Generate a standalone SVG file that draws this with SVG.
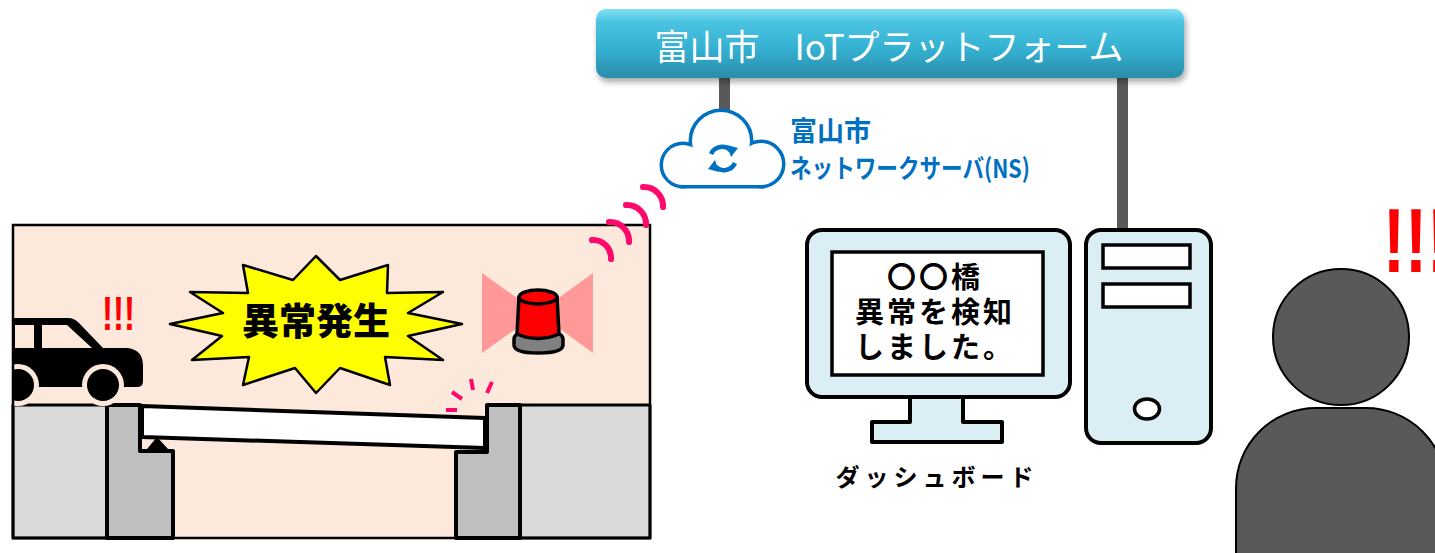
<svg xmlns="http://www.w3.org/2000/svg" width="1435" height="553" viewBox="0 0 1435 553">
  <defs>
    <linearGradient id="barGrad" x1="0" y1="0" x2="0" y2="1">
      <stop offset="0" stop-color="#7fe0f2"/>
      <stop offset="0.18" stop-color="#4cc4e2"/>
      <stop offset="0.6" stop-color="#33afd0"/>
      <stop offset="1" stop-color="#2a8caa"/>
    </linearGradient>
    <filter id="shadow" x="-5%" y="-20%" width="110%" height="160%">
      <feDropShadow dx="2" dy="4" stdDeviation="3" flood-color="#000" flood-opacity="0.35"/>
    </filter>
    <clipPath id="panelClip">
      <rect x="13" y="225" width="637" height="313"/>
    </clipPath>
    <style>
      .jp { font-family: "Noto Sans CJK JP", "Noto Sans", sans-serif; }
      .ln { stroke: #000; stroke-linejoin: round; }
      .sig { fill: none; stroke: #ff0a6c; stroke-width: 6; stroke-linecap: round; }
      .crack { stroke: #ff0a6c; stroke-width: 4; }
      .bar { fill: #595959; }
      .pc { fill: #daeef3; stroke: #000; stroke-width: 4; stroke-linejoin: round; }
      .bang { font-family: "Liberation Sans", Arial, sans-serif; font-weight: bold; fill: #ff0000; }
    </style>
  </defs>

  <!-- connectors: platform to cloud and to the PC tower -->
  <g id="connectors">
    <rect class="bar" x="719" y="70" width="11" height="48"/>
    <rect class="bar" x="1117" y="70" width="11" height="162"/>
  </g>

  <!-- IoT platform bar -->
  <g id="platform">
    <rect x="596" y="9" width="588" height="69" rx="10" fill="url(#barGrad)" filter="url(#shadow)"/>
    <text class="jp" x="889" y="60" font-size="35" fill="#fff" text-anchor="middle">富山市　IoTプラットフォーム</text>
  </g>

  <!-- network server cloud -->
  <g id="cloud">
    <g fill="none" stroke="#0070c0" stroke-width="7">
      <circle cx="683" cy="165" r="20"/>
      <circle cx="721" cy="141" r="29"/>
      <circle cx="761" cy="164" r="21"/>
      <rect x="683" y="150" width="78" height="35"/>
    </g>
    <g fill="#fff">
      <circle cx="683" cy="165" r="20"/>
      <circle cx="721" cy="141" r="29"/>
      <circle cx="761" cy="164" r="21"/>
      <rect x="683" y="150" width="78" height="35"/>
    </g>
    <!-- sync arrows -->
    <g fill="none" stroke="#0070c0" stroke-width="4.5">
      <path d="M711,154 A12,12 0 0 1 731,151"/>
      <path d="M735,163 A12,12 0 0 1 715,166"/>
    </g>
    <polygon points="727,145 738,148 731,157" fill="#0070c0"/>
    <polygon points="719,172 708,169 715,160" fill="#0070c0"/>
  </g>

  <g id="ns-label" fill="#0070c0" font-weight="bold" class="jp">
    <text x="790" y="141" font-size="27">富山市</text>
    <text x="790" y="178" font-size="26" textLength="240" lengthAdjust="spacingAndGlyphs">ネットワークサーバ(NS)</text>
  </g>

  <!-- bridge scene -->
  <g id="bridge-scene">
    <rect x="13" y="225" width="637" height="313" fill="#fde9db"/>
    <!-- ground blocks -->
    <rect x="13" y="405" width="94" height="133" fill="#d9d9d9" class="ln" stroke-width="3"/>
    <rect x="520" y="405" width="130" height="133" fill="#d9d9d9" class="ln" stroke-width="3"/>
    <!-- abutments -->
    <polygon points="107,405 140,405 140,451 173,451 173,538 107,538" fill="#bfbfbf" class="ln" stroke-width="4"/>
    <polygon points="487,405 520,405 520,538 456,538 456,452 487,452" fill="#bfbfbf" class="ln" stroke-width="4"/>
    <!-- bearing -->
    <path d="M147,449 L157,437 L168,449 Z" fill="#000"/>
    <!-- girder -->
    <polygon points="142,406 485,418 485,448 142,437" fill="#fff" class="ln" stroke-width="4"/>
    <!-- car -->
    <g clip-path="url(#panelClip)">
      <path d="M5,318 H68 Q74,318 79,323 L103,348 H128 Q143,350 143,366 V381 Q143,387 137,387 H5 Z" fill="#000"/>
      <rect x="15" y="325" width="19" height="23" fill="#fde9db"/>
      <polygon points="42,325 67,325 92,348 42,348" fill="#fde9db"/>
      <circle cx="103" cy="385" r="21" fill="#fde9db"/>
      <circle cx="18" cy="385" r="21" fill="#fde9db"/>
      <circle cx="103" cy="385" r="16" fill="#000"/>
      <circle cx="18" cy="385" r="16" fill="#000"/>
    </g>
    <text class="bang" x="102" y="330" font-size="48" textLength="33" lengthAdjust="spacingAndGlyphs">!!!</text>
    <!-- alert burst -->
    <polygon points="316,256 340,280 388,265 387,293 443,292 408,313 462,324 408,336 443,360 385,357 390,385 340,368 316,393 295,368 243,385 249,357 192,360 222,336 170,324 223,313 190,292 248,293 243,265 293,280" fill="#ffff00" class="ln" stroke-width="2.5"/>
    <text class="jp" x="316" y="335" font-size="37" font-weight="900" text-anchor="middle">異常発生</text>
    <!-- warning light -->
    <polygon points="482,273 538,313 482,353" fill="#ff9999"/>
    <polygon points="593,273 538,313 593,353" fill="#ff9999"/>
    <path d="M514,339 V345 Q514,353 538,353 Q563,353 563,345 V339 Q563,331 538,331 Q514,331 514,339 Z" fill="#808080" class="ln" stroke-width="3.5"/>
    <path d="M519,297 L517,334 Q538,343 559,334 L557,297 Z" fill="#ff0000" class="ln" stroke-width="3.5"/>
    <ellipse cx="538" cy="297" rx="19" ry="7" fill="#ff0000" class="ln" stroke-width="3.5"/>
    <!-- impact marks -->
    <line class="crack" x1="446" y1="410" x2="457" y2="410"/>
    <line class="crack" x1="452" y1="392" x2="462" y2="399"/>
    <line class="crack" x1="471" y1="379" x2="473" y2="390"/>
    <line class="crack" x1="492" y1="382" x2="487" y2="393"/>
    <rect x="13" y="225" width="637" height="313" fill="none" stroke="#000" stroke-width="2.5"/>
  </g>

  <!-- radio waves from the sensor -->
  <g id="waves">
    <path class="sig" d="M592,240 A18,18 0 0 1 611,259"/>
    <path class="sig" d="M609,222 A19,19 0 0 1 629,242"/>
    <path class="sig" d="M626,205 A19,19 0 0 1 646,225"/>
    <path class="sig" d="M643,187 A19,19 0 0 1 663,207"/>
  </g>

  <!-- dashboard monitor -->
  <g id="monitor">
    <path class="pc" d="M910,395 V422 H872 V442 H1002 V422 H963 V395"/>
    <rect class="pc" x="807" y="230" width="263" height="167" rx="15"/>
    <rect x="832" y="252" width="211" height="123" fill="#fff" stroke="#000" stroke-width="3.5"/>
    <g class="jp" font-size="29" font-weight="bold" text-anchor="middle" letter-spacing="3">
      <text x="935" y="288">〇〇橋</text>
      <text x="935" y="323">異常を検知</text>
      <text x="935" y="358">しました。</text>
    </g>
    <text class="jp" x="937" y="486" font-size="24" font-weight="bold" text-anchor="middle" letter-spacing="5">ダッシュボード</text>
  </g>

  <!-- PC tower -->
  <g id="tower">
    <rect class="pc" x="1086" y="230" width="125" height="213" rx="15"/>
    <rect x="1103" y="245" width="87" height="23" fill="#fff" stroke="#000" stroke-width="3.5"/>
    <rect x="1103" y="284" width="87" height="23" fill="#fff" stroke="#000" stroke-width="3.5"/>
    <ellipse cx="1147" cy="409" rx="12.5" ry="10" fill="#fff" stroke="#000" stroke-width="3.5"/>
  </g>

  <!-- operator -->
  <g id="person">
    <path d="M1236,560 V488 A80,80 0 0 1 1316,408 H1366 A80,80 0 0 1 1446,488 V560 Z" fill="#595959" stroke="#000" stroke-width="2"/>
    <circle cx="1341" cy="337" r="68" fill="#595959" stroke="#000" stroke-width="2"/>
    <text class="bang" x="1383" y="272" font-size="90" textLength="66" lengthAdjust="spacingAndGlyphs">!!!</text>
  </g>
</svg>
